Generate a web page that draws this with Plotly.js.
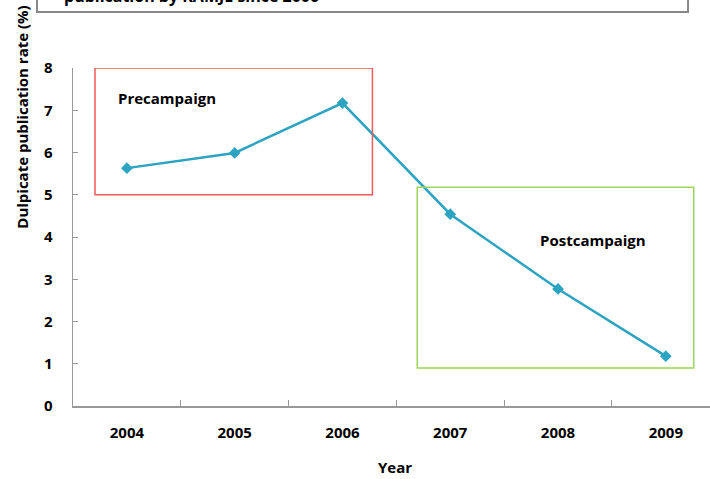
<!DOCTYPE html>
<html>
<head>
<meta charset="utf-8">
<script src="https://cdn.plot.ly/plotly-3.0.1.min.js"></script>
<style>html,body{margin:0;padding:0;background:#fff;}#chart{width:710px;height:479px;}</style>
</head>
<body>
<div id="chart"></div>
<script>
const years = ["2004", "2005", "2006", "2007", "2008", "2009"];
const rates = [5.63, 5.99, 7.17, 4.54, 2.77, 1.18];
const yTicks = [0, 1, 2, 3, 4, 5, 6, 7, 8];
const titleText = "publication by KAMJE since 2006";
const yTitle = "Dulpicate publication rate (%)";
const xTitle = "Year";
const preLabel = "Precampaign";
const postLabel = "Postcampaign";

const FONT = "Open Sans, Lato, DejaVu Sans, sans-serif";
const boldFont = (s) => ({family: FONT, size: s, color: "#000", weight: 700});

const trace = {
  x: years,
  y: rates,
  type: "scatter",
  mode: "lines+markers",
  line: {color: "#2ba3c1", width: 2.5},
  marker: {symbol: "diamond", size: 9, color: "#2ba3c1"},
  hoverinfo: "skip"
};

const layout = {
  width: 710,
  height: 479,
  margin: {l: 73, r: 0, t: 68, b: 73},
  paper_bgcolor: "#fff",
  plot_bgcolor: "#fff",
  showlegend: false,
  xaxis: {
    type: "category",
    categoryarray: years,
    range: [-0.5, 5.41],
    tickson: "boundaries",
    ticks: "inside",
    ticklen: 6,
    tickcolor: "#999",
    tickwidth: 1,
    showline: true,
    linecolor: "#999",
    linewidth: 1.5,
    showgrid: false,
    zeroline: false,
    tickfont: boldFont(15),
    ticklabelstandoff: 12
  },
  yaxis: {
    range: [0, 8],
    tickvals: yTicks,
    ticktext: yTicks.map(String),
    ticks: "inside",
    ticklen: 5,
    tickcolor: "#999",
    tickwidth: 1,
    showline: true,
    linecolor: "#999",
    linewidth: 1.5,
    showgrid: false,
    zeroline: false,
    tickfont: boldFont(15),
    ticklabelstandoff: 16
  },
  shapes: [
    {type: "rect", xref: "x", yref: "y", x0: -0.296, x1: 2.278, y0: 5.0, y1: 8.0,
     line: {color: "#f05a5a", width: 1.5}},
    {type: "rect", xref: "x", yref: "y", x0: 2.694, x1: 5.259, y0: 0.9, y1: 5.18,
     line: {color: "#9bd45a", width: 1.5}},
    {type: "rect", xref: "paper", yref: "paper", x0: -0.0565, x1: 0.9655, y0: 1.1657, y1: 1.3,
     line: {color: "#888", width: 2}}
  ],
  annotations: [
    {text: preLabel, xref: "x", yref: "y", x: 0.37, y: 7.28, showarrow: false, font: boldFont(15)},
    {text: postLabel, xref: "x", yref: "y", x: 4.32, y: 3.94, showarrow: false, font: boldFont(15)},
    {text: yTitle, xref: "paper", yref: "paper", x: -0.08, y: 0.853, xanchor: "center", yanchor: "middle",
     textangle: -90, showarrow: false, font: boldFont(15)},
    {text: xTitle, xref: "paper", yref: "paper", x: 0.505, y: -0.181, xanchor: "center", yanchor: "middle",
     showarrow: false, font: boldFont(15)},
    {text: titleText, xref: "paper", yref: "paper", x: -0.017, xanchor: "left", y: 1.176, yanchor: "bottom",
     showarrow: false, font: boldFont(16)}
  ]
};

Plotly.newPlot("chart", [trace], layout, {displayModeBar: false, staticPlot: true});
</script>
</body>
</html>
